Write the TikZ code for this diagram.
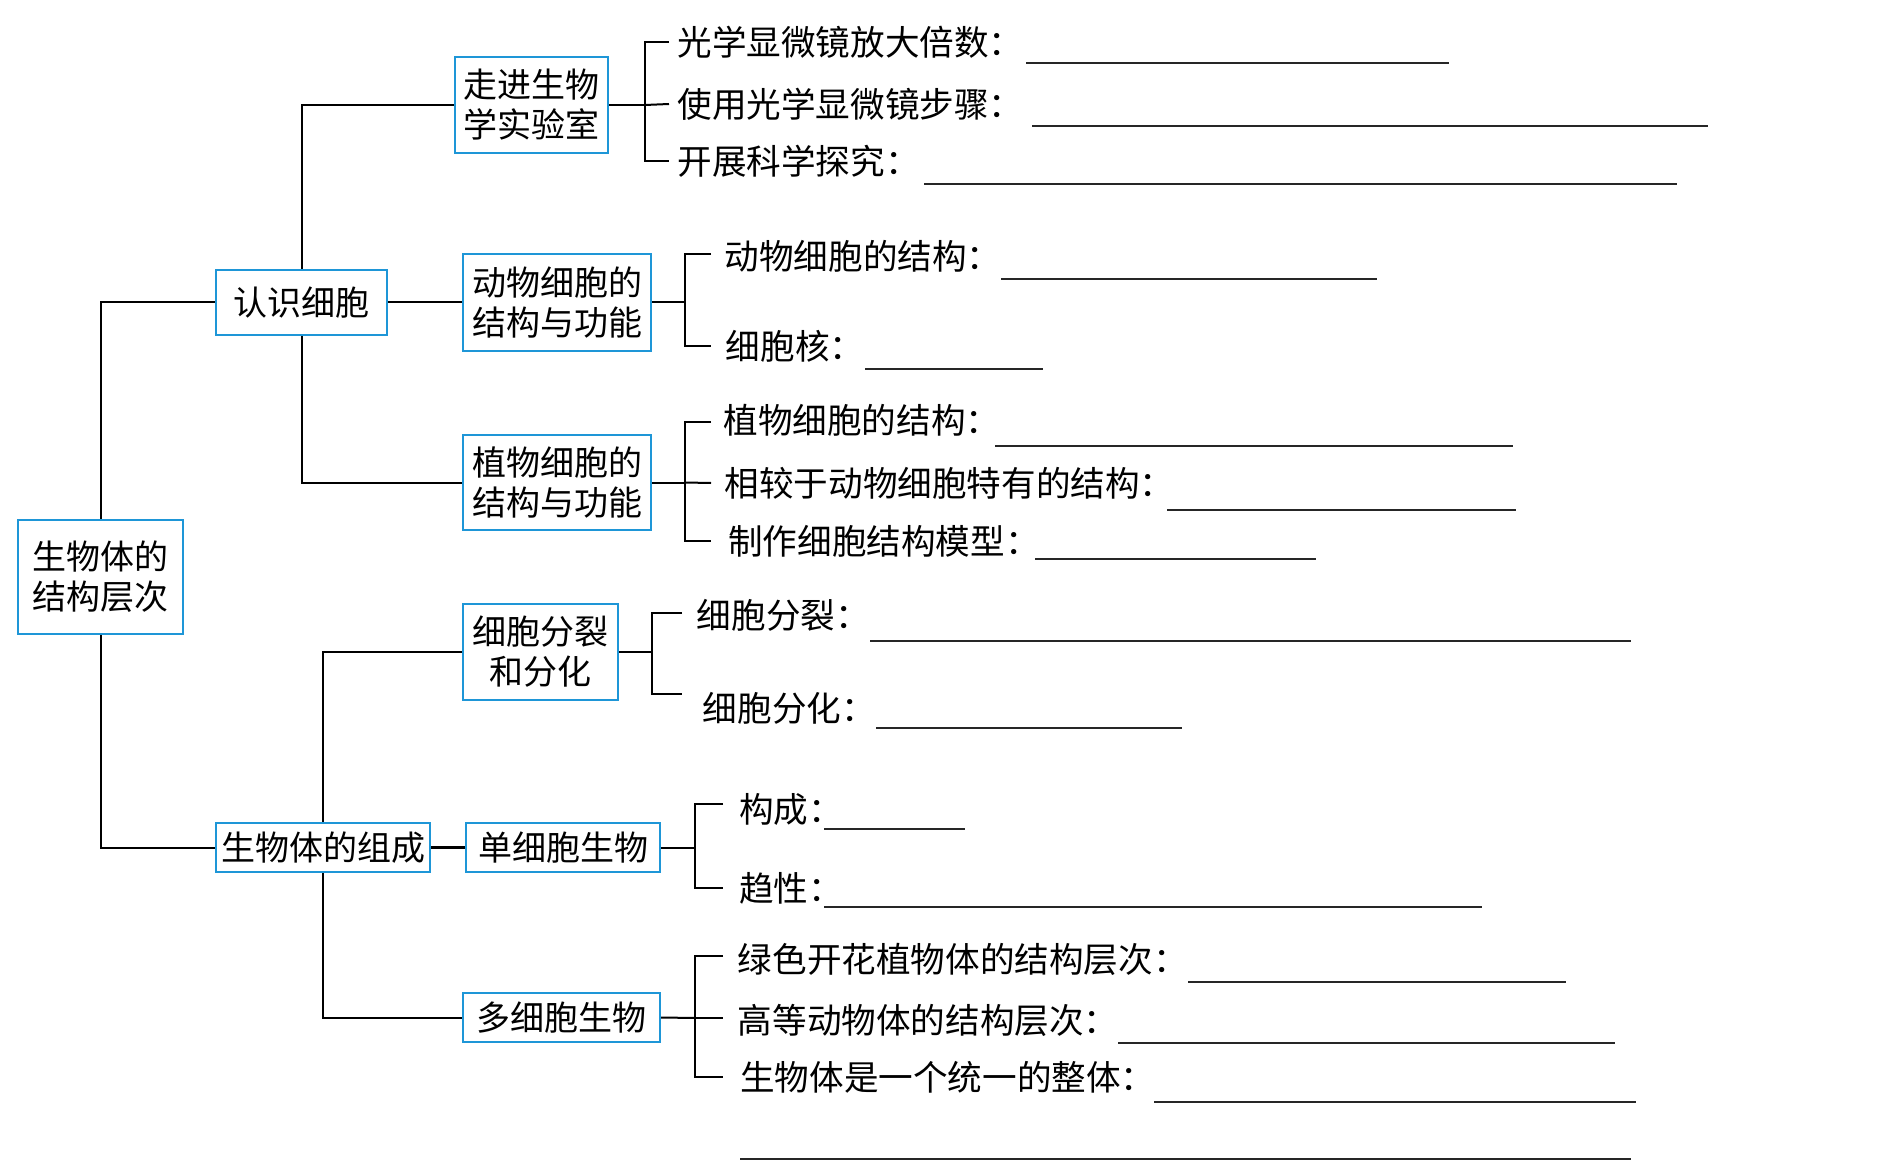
\documentclass[tikz,border=0pt]{standalone}
\usepackage{fontspec}
\setmainfont{Noto Sans CJK SC}
\usepackage{xcolor}
\usepackage{tikz}
\usetikzlibrary{positioning,calc}
\definecolor{boxblue}{RGB}{30,150,215}

\begin{document}
\begin{tikzpicture}[
    x=0.5pt, y=-0.5pt,
    box/.style={draw=boxblue, line width=1.2pt, fill=white, inner sep=0pt, align=center, font=\fontsize{17pt}{20pt}\selectfont},
    leaf/.style={anchor=west, inner xsep=4pt, inner ysep=0pt, font=\fontsize{17.3pt}{20pt}\selectfont},
    link/.style={line width=1pt},
    blank/.style={line width=1pt, black!85}
]
\useasboundingbox (0,0) rectangle (1889,1176);

% Root
\node[box, minimum width=82.5pt, minimum height=57pt] (root) at (100.5,577) {生物体的\\结构层次};

% Level 1
\node[box, minimum width=85.5pt, minimum height=32.5pt] (cell) at (301.5,302.5) {认识细胞};
\node[box, minimum width=107pt, minimum height=24.5pt] (compose) at (323,847.5) {生物体的组成};

% Level 2
\node[box, minimum width=76.5pt, minimum height=48pt] (lab) at (531.5,105) {走进生物\\学实验室};
\node[box, minimum width=94pt, minimum height=48.5pt] (animal) at (557,302.5) {动物细胞的\\结构与功能};
\node[box, minimum width=94pt, minimum height=47.5pt] (plant) at (557,482.5) {植物细胞的\\结构与功能};
\node[box, minimum width=77.5pt, minimum height=48pt] (divide) at (540.5,652) {细胞分裂\\和分化};
\node[box, minimum width=97pt, minimum height=24.5pt] (single) at (563,847.5) {单细胞生物};
\node[box, minimum width=98.5pt, minimum height=24.5pt] (multi) at (561.5,1017.5) {多细胞生物};

% Leaves
\node[leaf] (l1) at (669,42) {光学显微镜放大倍数：};
\node[leaf] (l2) at (669,104) {使用光学显微镜步骤：};
\node[leaf] (l3) at (669,161) {开展科学探究：};
\node[leaf, inner xsep=6.6pt] (a1) at (711,256) {动物细胞的结构：};
\node[leaf, inner xsep=7.2pt] (a2) at (711,346) {细胞核：};
\node[leaf, inner xsep=6pt] (p1) at (711,420) {植物细胞的结构：};
\node[leaf, inner xsep=6.6pt] (p2) at (711,483) {相较于动物细胞特有的结构：};
\node[leaf, inner xsep=8.4pt] (p3) at (711,541) {制作细胞结构模型：};
\node[leaf, inner xsep=7.2pt] (d1) at (682,615) {细胞分裂：};
\node[leaf, inner xsep=10.2pt] (d2) at (682,708) {细胞分化：};
\node[leaf, inner xsep=7.8pt] (s1) at (723,809) {构成：};
\node[leaf, inner xsep=7.8pt] (s2) at (723,888) {趋性：};
\node[leaf, inner xsep=7.2pt] (m1) at (723,959) {绿色开花植物体的结构层次：};
\node[leaf, inner xsep=7.2pt] (m2) at (723,1020) {高等动物体的结构层次：};
\node[leaf, inner xsep=8.4pt] (m3) at (723,1077) {生物体是一个统一的整体：};

% Forks
\coordinate (labfork) at (645,105);
\coordinate (anfork) at (685,302.5);
\coordinate (plfork) at (685,482.5);
\coordinate (dvfork) at (652,652);
\coordinate (sgfork) at (695,847.5);
\coordinate (mtfork) at (695,1018);

% Links
\draw[link] (root.north) |- (cell.west);
\draw[link] (root.south) |- (compose.west);
\draw[link] (cell.north) |- (lab.west);
\draw[link] (cell.east) -- (animal.west);
\draw[link] (cell.south) |- (plant.west);
\draw[link] (compose.north) |- (divide.west);
\draw[link, line width=1.6pt] (compose.east) -- (single.west);
\draw[link] (compose.south) |- (multi.west);

\draw[link] (lab.east) -- (labfork);
\draw[link] (l1.west) -| (labfork) |- (l3.west);
\draw[link] (labfork) -- (l2.west);
\draw[link] (animal.east) -- (anfork);
\draw[link] ([yshift=1pt]a1.west) -| (anfork) |- (a2.west);
\draw[link] (plant.east) -- (plfork);
\draw[link] ([yshift=-1pt]p1.west) -| (plfork) |- (p3.west);
\draw[link] (plfork) -- (p2.west);
\draw[link] (divide.east) -- (dvfork);
\draw[link] ([yshift=1pt]d1.west) -| (dvfork) |- ([yshift=7pt]d2.west);
\draw[link] (single.east) -- (sgfork);
\draw[link] ([yshift=2.5pt]s1.west) -| (sgfork) |- (s2.west);
\draw[link] (multi.east) -- (mtfork);
\draw[link] ([yshift=1.5pt]m1.west) -| (mtfork) |- (m3.west);
\draw[link] (mtfork) -- ([yshift=1pt]m2.west);

% Blanks
\draw[blank] (1026,63) -- (1449,63);
\draw[blank] (1032,126) -- (1708,126);
\draw[blank] (924,184) -- (1677,184);
\draw[blank] (1001,279) -- (1377,279);
\draw[blank] (865,369) -- (1043,369);
\draw[blank] (995,446) -- (1513,446);
\draw[blank] (1167,510) -- (1516,510);
\draw[blank] (1035,559) -- (1316,559);
\draw[blank] (870,641) -- (1631,641);
\draw[blank] (876,728) -- (1182,728);
\draw[blank] (824,829) -- (965,829);
\draw[blank] (824,907) -- (1482,907);
\draw[blank] (1188,982) -- (1566,982);
\draw[blank] (1118,1043) -- (1615,1043);
\draw[blank] (1154,1102) -- (1636,1102);
\draw[blank] (740,1159) -- (1631,1159);

\end{tikzpicture}
\end{document}
